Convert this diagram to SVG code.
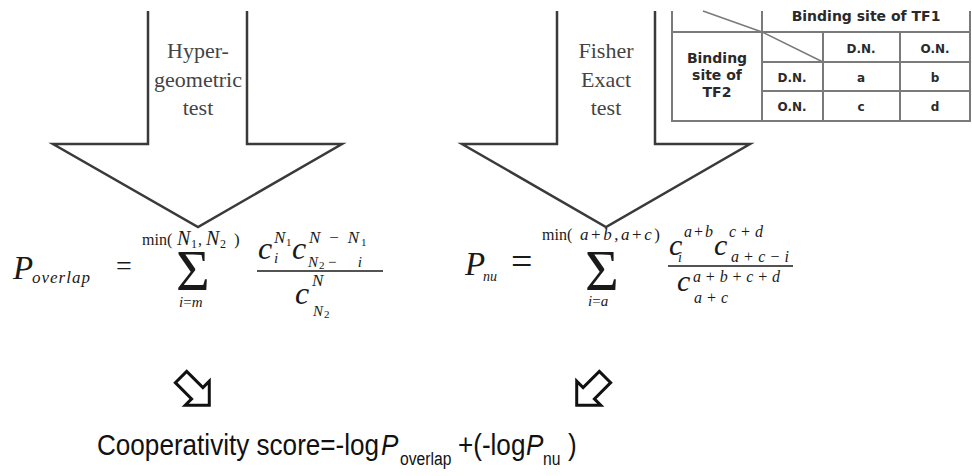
<svg xmlns="http://www.w3.org/2000/svg" width="972" height="476" viewBox="0 0 972 476">
<style>
.big{fill:#fff;stroke:#3a3a3a;stroke-width:2.5;stroke-linejoin:miter}
.lbl{font-family:"Liberation Serif",serif;font-size:22px;fill:#444;text-anchor:middle}
.tl{stroke:#7a7a7a;stroke-width:2;fill:none}
.tt{font-family:"DejaVu Sans",sans-serif;font-weight:bold;fill:#2a2a2a;text-anchor:middle}
.m{font-family:"Liberation Serif",serif;fill:#1a1a1a}
.i{font-style:italic}
.fl{stroke:#1a1a1a;stroke-width:1.5}
.sm{fill:#fff;stroke:#111;stroke-width:3;stroke-linejoin:miter}
.sc{font-family:"Liberation Sans",sans-serif;fill:#111;font-size:30px}
</style>
<rect width="972" height="476" fill="#fff"/>

<g id="hypergeometric-arrow">
<polyline class="big" points="148,11 148,144 53,144 198,227 342,144 247,144 247,11"/>
<text class="lbl" x="198" y="58">Hyper-</text>
<text class="lbl" x="198" y="87">geometric</text>
<text class="lbl" x="198" y="115">test</text>
</g>

<g id="fisher-arrow">
<polyline class="big" points="557,11 557,144 462,144 606,227 750,144 655,144 655,11"/>
<text class="lbl" x="606" y="58">Fisher</text>
<text class="lbl" x="606" y="87">Exact</text>
<text class="lbl" x="606" y="115">test</text>
</g>

<g id="contingency-table">
<rect x="662" y="11" width="310" height="120" fill="#fff"/>
<path class="tl" d="M672,11 V121 H970 V11 M762,11 V121 M823,32 V121 M900,32 V121 M672,32 H970 M762,62 H970 M762,91 H970"/>
<path class="tl" style="stroke-width:1.5" d="M703,11 L762,32 L823,62"/>
<text class="tt" x="866" y="21" font-size="14">Binding site of TF1</text>
<text class="tt" x="717" y="63" font-size="14">Binding</text>
<text class="tt" x="717" y="80" font-size="14">site of</text>
<text class="tt" x="717" y="97" font-size="14">TF2</text>
<text class="tt" x="861" y="53" font-size="12">D.N.</text>
<text class="tt" x="935" y="53" font-size="12">O.N.</text>
<text class="tt" x="792" y="82" font-size="12">D.N.</text>
<text class="tt" x="792" y="111" font-size="12">O.N.</text>
<text class="tt" x="861" y="82" font-size="12">a</text>
<text class="tt" x="935" y="82" font-size="12">b</text>
<text class="tt" x="861" y="111" font-size="12">c</text>
<text class="tt" x="935" y="111" font-size="12">d</text>
</g>

<g id="formula-overlap" transform="translate(0,-22)">
<text class="m i" x="13" y="301" font-size="33">P</text>
<text class="m i" x="32" y="305" font-size="17" textLength="58">overlap</text>
<text class="m" x="116" y="297" font-size="28">=</text>
<text class="m" x="142" y="267" font-size="16">min(</text>
<text class="m i" x="177" y="267" font-size="20">N</text>
<text class="m" x="191" y="270" font-size="12">1</text>
<text class="m" x="198" y="267" font-size="16">,</text>
<text class="m i" x="206" y="267" font-size="20">N</text>
<text class="m" x="220" y="270" font-size="12">2</text>
<text class="m" x="234" y="267" font-size="17">)</text>
<text class="m" x="176" y="312" font-size="58">Σ</text>
<text class="m" x="179" y="329" font-size="15"><tspan class="i">i</tspan>=<tspan class="i">m</tspan></text>
<text class="m i" x="258" y="281" font-size="32">c</text>
<text class="m i" x="274" y="265" font-size="17">N</text>
<text class="m" x="286" y="268" font-size="11">1</text>
<text class="m i" x="274" y="285" font-size="15">i</text>
<text class="m i" x="292" y="281" font-size="32">c</text>
<text class="m" x="309" y="265" font-size="17" textLength="50"><tspan class="i">N</tspan>−<tspan class="i">N</tspan></text>
<text class="m" x="361" y="268" font-size="11">1</text>
<text class="m i" x="308" y="289" font-size="15">N</text>
<text class="m" x="319" y="291" font-size="11">2</text>
<text class="m" x="328" y="289" font-size="15" textLength="34">−<tspan class="i">i</tspan></text>
<line class="fl" x1="257" y1="293" x2="383" y2="293"/>
<text class="m i" x="295" y="326" font-size="32">c</text>
<text class="m i" x="312" y="308" font-size="17">N</text>
<text class="m i" x="313" y="338" font-size="15">N</text>
<text class="m" x="324" y="340" font-size="11">2</text>
</g>

<g id="formula-nu" transform="translate(0,-22)">
<text class="m i" x="465" y="297" font-size="33">P</text>
<text class="m i" x="483" y="303" font-size="14">nu</text>
<text class="m" x="511" y="296" font-size="38">=</text>
<text class="m" x="542" y="262" font-size="16">min(</text>
<text class="m" x="580" y="262" font-size="17" textLength="80"><tspan class="i">a</tspan>+<tspan class="i">b</tspan>,<tspan class="i">a</tspan>+<tspan class="i">c</tspan>)</text>
<text class="m" x="585" y="312" font-size="58">Σ</text>
<text class="m" x="588" y="328" font-size="15"><tspan class="i">i</tspan>=<tspan class="i">a</tspan></text>
<text class="m i" x="669" y="277" font-size="30">c</text>
<text class="m" x="684" y="259" font-size="16" textLength="29"><tspan class="i">a</tspan>+<tspan class="i">b</tspan></text>
<text class="m i" x="678" y="284" font-size="14">i</text>
<text class="m i" x="714" y="277" font-size="30">c</text>
<text class="m" x="729" y="259" font-size="16" textLength="34"><tspan class="i">c</tspan>+<tspan class="i">d</tspan></text>
<text class="m" x="731" y="284" font-size="16" textLength="58"><tspan class="i">a</tspan>+<tspan class="i">c</tspan>−<tspan class="i">i</tspan></text>
<line class="fl" x1="668" y1="288" x2="793" y2="288"/>
<text class="m i" x="677" y="313" font-size="30">c</text>
<text class="m" x="693" y="304" font-size="16" textLength="87"><tspan class="i">a</tspan>+<tspan class="i">b</tspan>+<tspan class="i">c</tspan>+<tspan class="i">d</tspan></text>
<text class="m" x="694" y="325" font-size="16" textLength="34"><tspan class="i">a</tspan>+<tspan class="i">c</tspan></text>
</g>

<g id="connectors">
<path class="sm" transform="translate(181,377) rotate(45)" d="M0,-8 H23 V-17 L40,0 L23,17 V8 H0 Z"/>
<path class="sm" transform="translate(605,377) rotate(135)" d="M0,-8 H23 V-17 L40,0 L23,17 V8 H0 Z"/>
</g>

<g id="score">
<text class="sc" transform="scale(0.87,1)" y="455"><tspan x="111.5">Cooperativity score=-log</tspan><tspan x="437.9" font-style="italic">P</tspan><tspan x="459.8" y="465" font-size="18">overlap</tspan><tspan x="526.4" y="455">+(-log</tspan><tspan x="604.6" font-style="italic">P</tspan><tspan x="624.1" y="465" font-size="18">nu</tspan><tspan x="652.9" y="455">)</tspan></text>
</g>
</svg>
